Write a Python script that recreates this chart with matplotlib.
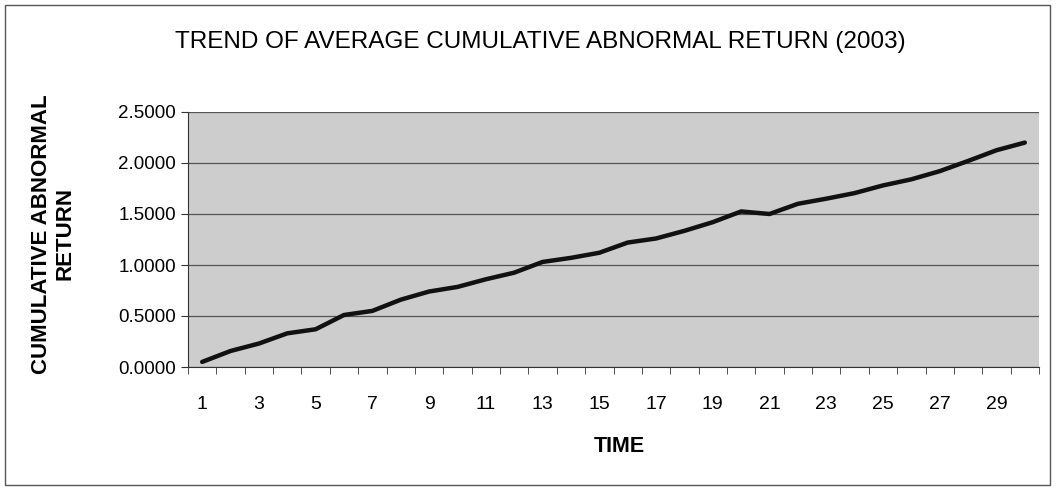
import matplotlib
matplotlib.use('Agg')
import matplotlib.pyplot as plt
from matplotlib.patches import Rectangle
import numpy as np

plt.rcParams['font.family'] = ['Liberation Sans', 'DejaVu Sans']

# 데이터
time = list(range(1, 31))
car = [0.05, 0.157, 0.23, 0.33, 0.37, 0.51, 0.55, 0.66, 0.74, 0.785,
       0.86, 0.925, 1.03, 1.07, 1.12, 1.22, 1.26, 1.335, 1.42, 1.525,
       1.50, 1.60, 1.65, 1.705, 1.78, 1.84, 1.92, 2.02, 2.125, 2.20]
yticks = [0.0, 0.5, 1.0, 1.5, 2.0, 2.5]
xtick_labels = [str(t) for t in range(1, 30, 2)]

fig = plt.figure(figsize=(10.57, 4.88), dpi=100)
ax = fig.add_axes([188 / 1057, (488 - 367) / 488, (1039 - 188) / 1057, (367 - 112) / 488])

# 바깥 테두리
fig.patches.append(Rectangle((5 / 1057, 3 / 488), 1045 / 1057, 480 / 488,
                             transform=fig.transFigure, fill=False,
                             edgecolor='#555555', linewidth=1.0))

ax.set_facecolor('#cdcdcd')
ax.plot(time, car, color='#111111', linewidth=3.2, solid_capstyle='round',
        solid_joinstyle='round', zorder=3)

ax.set_xlim(0.5, 30.5)
ax.set_ylim(0, 2.5)
ax.set_yticks(yticks)
ax.set_yticklabels(['%.4f' % v for v in yticks], fontsize=13.5)
ax.set_xticks(range(1, 30, 2))
ax.set_xticklabels(xtick_labels, fontsize=14)
ax.set_xticks(np.arange(0.5, 31, 1.0), minor=True)
ax.tick_params(axis='x', which='major', length=0, pad=21)
ax.tick_params(axis='x', which='minor', length=5, direction='out', color='#333333')
ax.tick_params(axis='y', length=5, direction='out', pad=3.5, color='#333333')

ax.grid(True, axis='y', color='#555555', linewidth=0.9)
ax.set_axisbelow(True)
for s in ['top', 'right']:
    ax.spines[s].set_visible(False)
ax.spines['left'].set_color('#333333')
ax.spines['bottom'].set_color('#333333')

fig.text(540 / 1057, 1 - 42 / 488, 'TREND OF AVERAGE CUMULATIVE ABNORMAL RETURN (2003)',
         ha='center', va='center', fontsize=17.5)
fig.text(619 / 1057, 1 - 447 / 488, 'TIME', ha='center', va='center',
         fontsize=15.5, fontweight='bold')
fig.text(53 / 1057, 1 - 234 / 488, 'CUMULATIVE ABNORMAL\nRETURN', ha='center', va='center',
         rotation=90, fontsize=16, fontweight='bold', linespacing=1.15)

fig.savefig('out.png', dpi=100)
